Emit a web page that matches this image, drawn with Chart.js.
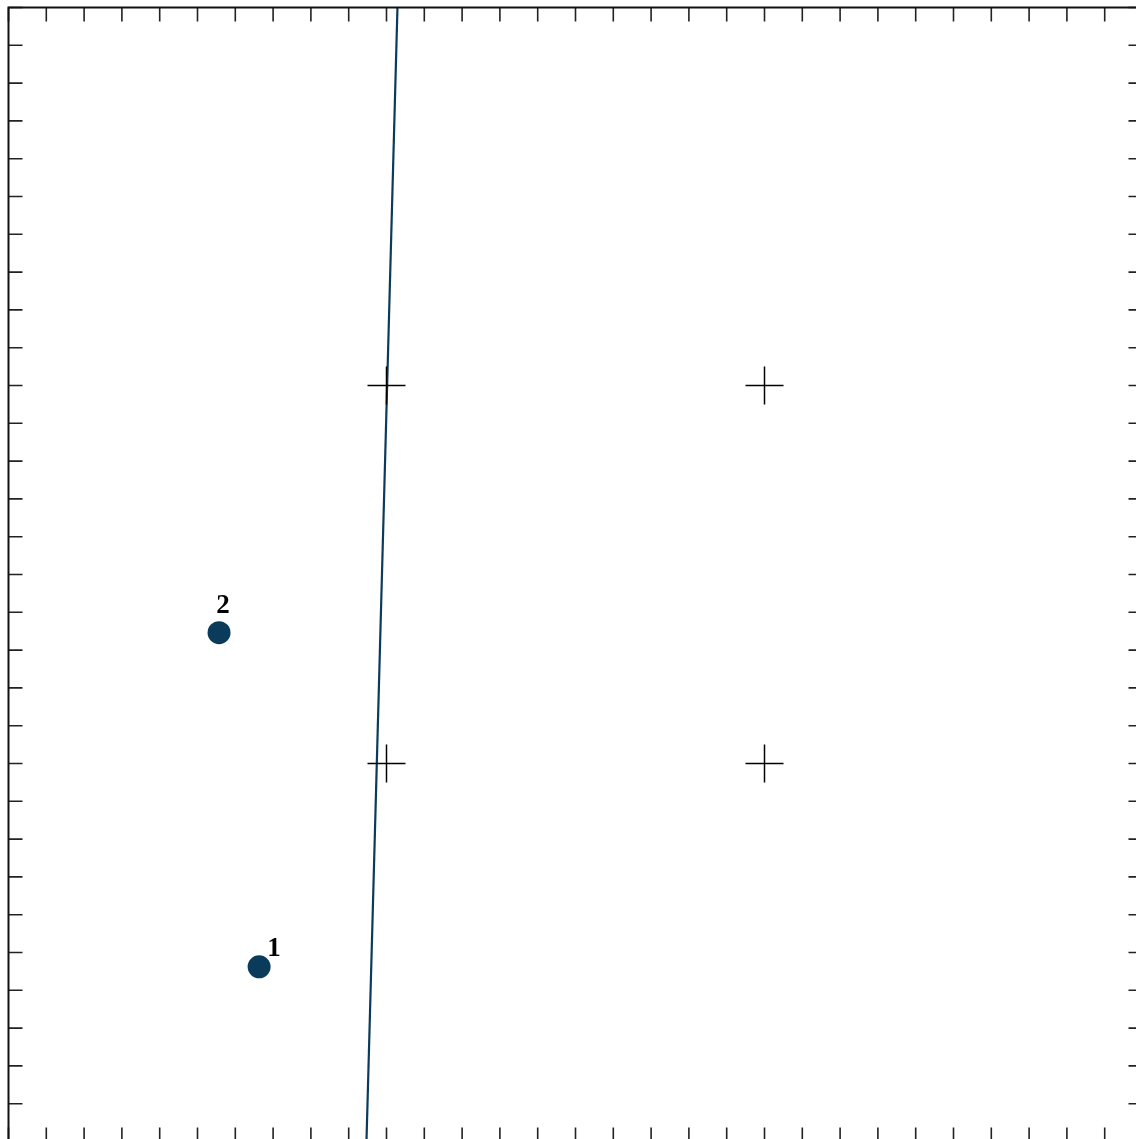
<!DOCTYPE html>
<html>
<head>
<meta charset="utf-8">
<script src="https://cdn.jsdelivr.net/npm/chart.js@4.4.1/dist/chart.umd.min.js"></script>
<style>
  html, body { margin: 0; padding: 0; background: #ffffff; overflow: hidden; }
  #wrap { position: absolute; left: 0; top: 0; width: 1160px; height: 1160px; }
</style>
</head>
<body>
<div id="wrap"><canvas id="c"></canvas></div>
<script>
// ---- data ----
const xRange = [0, 30];
const yRange = [0, 30];
const tickStep = 1;
const pointLabels = ['1', '2'];
const pointX = [6.63, 5.57];
const pointY = [4.62, 13.46];
const lineX = [9.47, 10.29];
const lineY = [0, 30];
const crossX = [10, 20, 10, 20];
const crossY = [10, 10, 20, 20];

const navy = '#0b3b5b';

const framePlugin = {
  id: 'frameTicks',
  afterDatasetsDraw(chart) {
    const ctx = chart.ctx;
    const a = chart.chartArea;
    const xs = chart.scales.x, ys = chart.scales.y;
    ctx.save();
    // inward tick marks on all four sides
    ctx.strokeStyle = '#222';
    ctx.lineWidth = 1.6;
    const len = 14;
    ctx.beginPath();
    for (let v = xs.min; v <= xs.max + 1e-9; v += tickStep) {
      const px = xs.getPixelForValue(v);
      ctx.moveTo(px, a.top); ctx.lineTo(px, a.top + len);
      ctx.moveTo(px, a.bottom); ctx.lineTo(px, a.bottom - len);
    }
    for (let v = ys.min; v <= ys.max + 1e-9; v += tickStep) {
      const py = ys.getPixelForValue(v);
      ctx.moveTo(a.left, py); ctx.lineTo(a.left + len, py);
      ctx.moveTo(a.right, py); ctx.lineTo(a.right - len, py);
    }
    ctx.stroke();
    // frame
    ctx.strokeStyle = '#111';
    ctx.lineWidth = 2;
    ctx.strokeRect(a.left, a.top, a.right - a.left, a.bottom - a.top);
    // point labels
    const meta = chart.getDatasetMeta(2);
    ctx.fillStyle = '#000';
    ctx.font = 'bold 27px "Liberation Serif", "DejaVu Serif", serif';
    ctx.textAlign = 'center';
    ctx.textBaseline = 'alphabetic';
    const place = { '1': [15, -11], '2': [4, -20] };
    meta.data.forEach((el, i) => {
      const lab = pointLabels[i];
      const off = place[lab] || [0, -16];
      ctx.fillText(lab, el.x + off[0], el.y + off[1]);
    });
    ctx.restore();
  }
};

new Chart(document.getElementById('c'), {
  type: 'scatter',
  data: {
    datasets: [
      {
        label: 'line',
        type: 'line',
        data: lineX.map((x, i) => ({ x, y: lineY[i] })),
        borderColor: navy,
        borderWidth: 2.2,
        pointRadius: 0,
        fill: false,
        tension: 0,
        order: 2
      },
      {
        label: 'grid',
        data: crossX.map((x, i) => ({ x, y: crossY[i] })),
        pointStyle: 'cross',
        pointRadius: 19,
        borderColor: '#000',
        borderWidth: 1.5,
        backgroundColor: '#000',
        order: 1
      },
      {
        label: 'points',
        data: pointX.map((x, i) => ({ x, y: pointY[i] })),
        pointStyle: 'circle',
        pointRadius: 11.5,
        backgroundColor: navy,
        borderColor: navy,
        borderWidth: 0,
        order: 0
      }
    ]
  },
  options: {
    responsive: true,
    maintainAspectRatio: false,
    animation: false,
    devicePixelRatio: 1,
    layout: { autoPadding: false, padding: { left: 8.5, top: 7.5, right: 17.5, bottom: 18.5 } },
    plugins: { legend: { display: false }, tooltip: { enabled: false } },
    scales: {
      x: { type: 'linear', min: xRange[0], max: xRange[1], display: false, ticks: { stepSize: tickStep } },
      y: { type: 'linear', min: yRange[0], max: yRange[1], display: false, ticks: { stepSize: tickStep } }
    }
  },
  plugins: [framePlugin]
});
</script>
</body>
</html>
